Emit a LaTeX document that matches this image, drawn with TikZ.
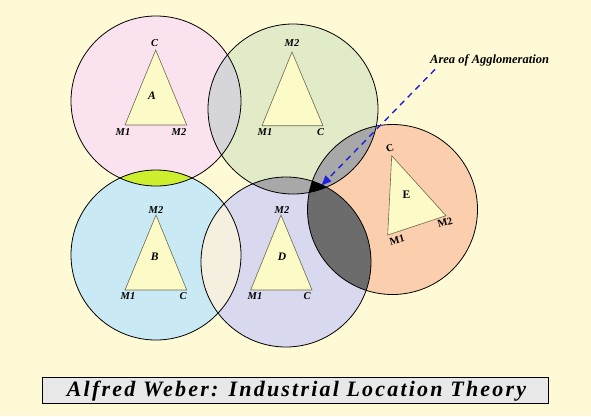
\documentclass[tikz,border=0pt]{standalone}
\usepackage{fontspec}
\setmainfont{Liberation Serif}
\usetikzlibrary{arrows.meta}
\definecolor{bg}{HTML}{FEFAD6}
\definecolor{cA}{HTML}{FAE3EE}
\definecolor{cC}{HTML}{E2EBC8}
\definecolor{cB}{HTML}{C9EAF4}
\definecolor{cD}{HTML}{D8D8EE}
\definecolor{cE}{HTML}{FBCFAE}
\definecolor{iAC}{HTML}{D6D6DA}
\definecolor{iAB}{HTML}{CCF030}
\definecolor{iBD}{HTML}{F4EFDF}
\definecolor{iCE}{HTML}{A8A8A8}
\definecolor{iDE}{HTML}{6C6C6C}
\definecolor{trifill}{HTML}{FCFAC6}
\definecolor{triline}{HTML}{6A6A50}
\definecolor{arrowblue}{HTML}{2020E0}
\definecolor{titlefill}{HTML}{E8E8E8}
\begin{document}
\begin{tikzpicture}[x=1pt,y=-1pt,
  ring/.style={draw=black,line width=0.8pt},
  tri/.style={draw=triline,fill=trifill,line width=0.6pt},
  lbl/.style={font=\bfseries\itshape\fontsize{10.5}{12}\selectfont,inner sep=0pt},
  lblE/.style={font=\bfseries\fontsize{10.5}{12}\selectfont,inner sep=0pt,rotate=15},
  ctr/.style={font=\bfseries\itshape\fontsize{11.5}{13}\selectfont,inner sep=0pt}]
\useasboundingbox (0,0) rectangle (591,416);
\fill[bg] (0,0) rectangle (591,416);
% centres
\coordinate (oA) at (156,101);
\coordinate (oC) at (293,109);
\coordinate (oB) at (156,255);
\coordinate (oD) at (286,262);
\coordinate (oE) at (392.5,209.5);
\def\R{85}
% base fills
\fill[cA] (oA) circle[radius=\R];
\fill[cC] (oC) circle[radius=\R];
\fill[cB] (oB) circle[radius=\R];
\fill[cD] (oD) circle[radius=\R];
\fill[cE] (oE) circle[radius=\R];
% intersections
\begin{scope}\clip (oA) circle[radius=\R]; \fill[iAC] (oC) circle[radius=\R]; \end{scope}
\begin{scope}\clip (oA) circle[radius=\R]; \fill[iAB] (oB) circle[radius=\R]; \end{scope}
\begin{scope}\clip (oB) circle[radius=\R]; \fill[iBD] (oD) circle[radius=\R]; \end{scope}
\begin{scope}\clip (oC) circle[radius=\R]; \fill[iCE] (oE) circle[radius=\R]; \end{scope}
\begin{scope}\clip (oC) circle[radius=\R]; \fill[iCE] (oD) circle[radius=\R]; \end{scope}
\begin{scope}\clip (oD) circle[radius=\R]; \fill[iDE] (oE) circle[radius=\R]; \end{scope}
\begin{scope}\clip (oD) circle[radius=\R]; \clip (oE) circle[radius=\R]; \fill[black] (oC) circle[radius=\R]; \end{scope}
% outlines
\foreach \c in {oA,oC,oB,oD,oE} \draw[ring] (\c) circle[radius=\R];
% triangle A
\coordinate (a1) at (155.7,50); \coordinate (a2) at (125,125); \coordinate (a3) at (186.7,125);
\draw[tri] (a1)--(a2)--(a3)--cycle;
\node[lbl] (aC) at (154.5,43) {C};
\node[lbl] (aM1) at (123,132) {M1};
\node[lbl] (aM2) at (179,132) {M2};
\node[ctr] (aN) at (152,96) {A};
% triangle top middle
\coordinate (c1) at (292,52); \coordinate (c2) at (262,125.7); \coordinate (c3) at (323,125.7);
\draw[tri] (c1)--(c2)--(c3)--cycle;
\node[lbl] (cM2) at (292,43.5) {M2};
\node[lbl] (cM1) at (265,132) {M1};
\node[lbl] (cC) at (320.5,132) {C};
% triangle B
\coordinate (b1) at (156,215); \coordinate (b2) at (125,290); \coordinate (b3) at (186.7,290);
\draw[tri] (b1)--(b2)--(b3)--cycle;
\node[lbl] (bM2) at (156,210.5) {M2};
\node[lbl] (bM1) at (128,296.5) {M1};
\node[lbl] (bC) at (183,296.5) {C};
\node[ctr] (bN) at (154.7,257) {B};
% triangle D
\coordinate (d1) at (281,215); \coordinate (d2) at (250.7,290); \coordinate (d3) at (312,290);
\draw[tri] (d1)--(d2)--(d3)--cycle;
\node[lbl] (dM2) at (282,210.5) {M2};
\node[lbl] (dM1) at (255,296.5) {M1};
\node[lbl] (dC) at (307,296.5) {C};
\node[ctr] (dN) at (282,257) {D};
% triangle E
\coordinate (e1) at (391.7,155.7); \coordinate (e2) at (446,215.7); \coordinate (e3) at (387.7,235);
\draw[tri] (e1)--(e2)--(e3)--cycle;
\node[lblE] (eC) at (390,148.5) {C};
\node[lblE] (eM2) at (445,222.5) {M2};
\node[lblE] (eM1) at (397,240) {M1};
\node[font=\bfseries\fontsize{11.5}{13}\selectfont,inner sep=0pt] (eN) at (406.5,194.5) {E};
% arrow
\node[font=\bfseries\itshape\fontsize{12.5}{14}\selectfont,anchor=west,inner sep=0pt] (agg) at (430,60.5) {Area of Agglomeration};
\coordinate (tipA) at (321.5,185.5);
\draw[arrowblue,line width=1.4pt,dash pattern=on 6pt off 5pt,-{Triangle[length=10pt,width=8pt]}] (agg.south west) ++(5,3) coordinate (astart) -- (tipA);
% title
\node[draw=black,line width=1.2pt,fill=titlefill,minimum width=506pt,minimum height=26pt,inner sep=0pt] (title) at (295.5,390.5) {};
\node[font=\bfseries\itshape\fontsize{22}{24}\selectfont\addfontfeature{LetterSpace=10},inner sep=0pt] (ttext) at (296.5,391) {Alfred Weber: Industrial Location Theory};
\end{tikzpicture}
\end{document}
